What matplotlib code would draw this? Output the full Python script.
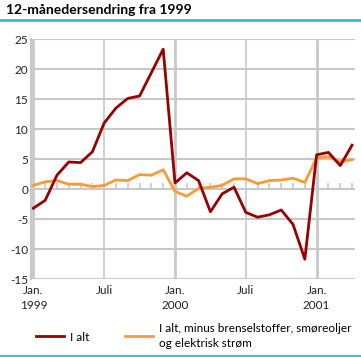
import numpy as np
import matplotlib.pyplot as plt
from matplotlib.lines import Line2D

# Jan 1999 .. Apr 2001
months = np.arange(28)
i_alt = [-3.2, -1.9, 2.3, 4.5, 4.4, 6.2, 11.0, 13.5, 15.1, 15.5, 19.4, 23.3,
         1.0, 2.7, 1.4, -3.8, -0.8, 0.3, -3.9, -4.7, -4.3, -3.5, -5.9, -11.7,
         5.7, 6.1, 3.9, 7.3]
i_alt_minus = [0.6, 1.2, 1.4, 0.8, 0.8, 0.4, 0.6, 1.5, 1.4, 2.4, 2.3, 3.2,
               -0.4, -1.2, 0.1, 0.3, 0.6, 1.7, 1.7, 0.9, 1.4, 1.5, 1.8, 1.1,
               5.2, 5.4, 4.5, 4.9]
tick_pos = [0, 6, 12, 18, 24]
tick_labels = ["Jan.\n1999", "Juli", "Jan.\n2000", "Juli", "Jan.\n2001"]
y_ticks = [25, 20, 15, 10, 5, 0, -5, -10, -15]

red = "#990000"
orange = "#ff9933"
grid = "#c8c8c8"
teal = "#3fbfbf"

plt.rcParams['font.family'] = ['Lato', 'DejaVu Sans']
fig = plt.figure(figsize=(3.61, 3.57), dpi=100)
ax = fig.add_axes([31 / 361, 1 - 279 / 357, 324 / 361, 240 / 357])

ax.set_xlim(-0.2, 27.25)
ax.set_ylim(-15, 25)

# grid
for y in y_ticks:
    ax.axhline(y, color=grid, lw=1.5, zorder=1)
for x in tick_pos:
    ax.axvline(x, color=grid, lw=2.0 if x % 12 == 0 else 1.2, zorder=1)
minor = [m for m in months if m % 6 != 0]
ax.vlines(minor, 0, 1, color=grid, lw=1.2, zorder=1)

ax.plot(months, i_alt_minus, color=orange, lw=2, zorder=3)
ax.plot(months, i_alt, color=red, lw=2, zorder=4)

for s in ["top", "right", "bottom"]:
    ax.spines[s].set_visible(False)
ax.spines["left"].set_color(grid)
ax.spines["left"].set_linewidth(1.5)

ax.set_yticks(y_ticks)
ax.set_yticklabels([str(v) for v in y_ticks], fontsize=8.5, color="#222222")
ax.set_xticks(tick_pos)
ax.set_xticklabels(tick_labels, fontsize=8.5, color="#222222", linespacing=1.45)
ax.tick_params(axis="y", length=0, pad=2)
ax.tick_params(axis="x", length=0, pad=4)

fig.text(6 / 361, 1 - 10 / 357, "12-månedersendring fra 1999", fontsize=10,
         fontweight="bold", va="center", ha="left")
fig.add_artist(Line2D([0, 1], [1 - 20 / 357, 1 - 20 / 357], color=teal, lw=2))
fig.add_artist(Line2D([0, 1], [1 - 355.5 / 357, 1 - 355.5 / 357], color=teal, lw=1.5))

handles = [Line2D([], [], color=red, lw=2), Line2D([], [], color=orange, lw=2)]
leg = fig.legend(handles, ["I alt", "I alt, minus brenselstoffer, smøreoljer\nog elektrisk strøm"],
                 loc="upper left", bbox_to_anchor=(36 / 361, 1 - 323 / 357), ncol=2, frameon=False,
                 fontsize=8.5, handlelength=2.4, handletextpad=0.5, columnspacing=3.0,
                 borderaxespad=0, borderpad=0)
for t in leg.get_texts():
    t.set_linespacing(1.45)

fig.savefig("out.png", dpi=100)
